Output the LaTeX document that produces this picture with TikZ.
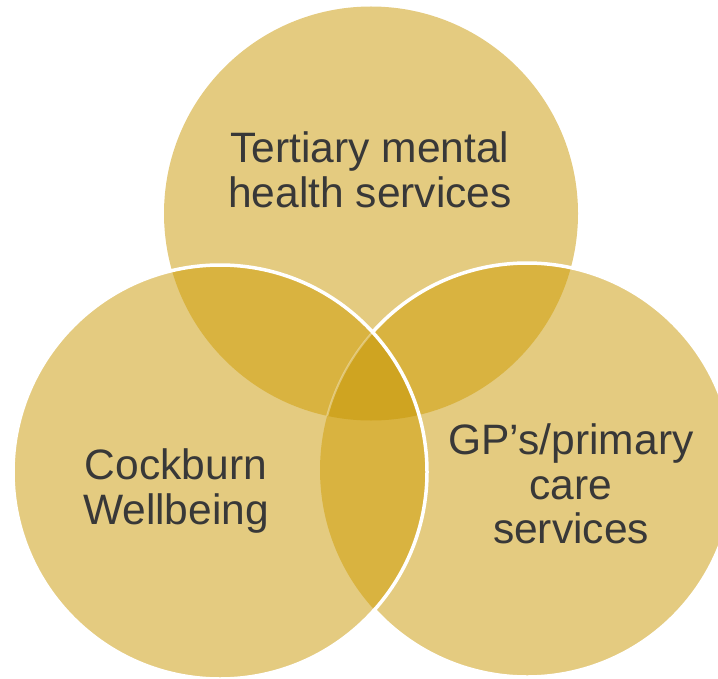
\documentclass[tikz,border=0pt]{standalone}
\usepackage{fontspec}
\setmainfont{Liberation Sans}
\usepackage{tikz}
\definecolor{ringsingle}{RGB}{228,203,128}
\definecolor{ringdouble}{RGB}{217,179,64}
\definecolor{ringtriple}{RGB}{207,164,33}
\definecolor{ringtext}{RGB}{56,56,56}
\tikzstyle{vennlabel} = [text=ringtext, align=center, inner sep=0pt, font=\fontsize{24.2}{25.3}\selectfont]
\tikzstyle{rim} = [white, line width=0.07cm]

\begin{document}
\begin{tikzpicture}

    \useasboundingbox (0,0) rectangle (14.36,13.56);
    \clip (0,0) rectangle (14.36,13.56); % the right circle runs off the page

    \coordinate (Top)   at (7.42,9.29);
    \coordinate (Left)  at (4.40,4.12);
    \coordinate (Right) at (10.54,4.16);

    % plain circles
    \foreach \c in {Top,Left,Right}{%
      \fill[ringsingle] (\c) circle (4.14);
    }

    % overlaps of two
    \begin{scope}
      \clip (Top) circle (4.14);
      \fill[ringdouble] (Left) circle (4.14);
      \fill[ringdouble] (Right) circle (4.14);
    \end{scope}
    \begin{scope}
      \clip (Left) circle (4.14);
      \fill[ringdouble] (Right) circle (4.14);
    \end{scope}

    % overlap of all three
    \begin{scope}
      \clip (Top) circle (4.14);
      \clip (Left) circle (4.14);
      \fill[ringtriple] (Right) circle (4.14);
      \draw[white, opacity=0.35, line width=0.04cm] (Right) circle (4.14);
    \end{scope}

    % white rims
    \draw[rim] (Left) circle (4.14);
    \draw[rim] (Right) ++(137.9:4.14)
        arc[start angle=137.9, end angle=-137.9, radius=4.14];

    \node[vennlabel] (TopText)   at (7.40,10.16) {Tertiary mental\\health services};
    \node[vennlabel] (LeftText)  at (3.52,3.74)  {Cockburn\\Wellbeing};
    \node[vennlabel] (RightText) at (11.42,3.88) {GP’s/primary\\care\\services};

\end{tikzpicture}
\end{document}
